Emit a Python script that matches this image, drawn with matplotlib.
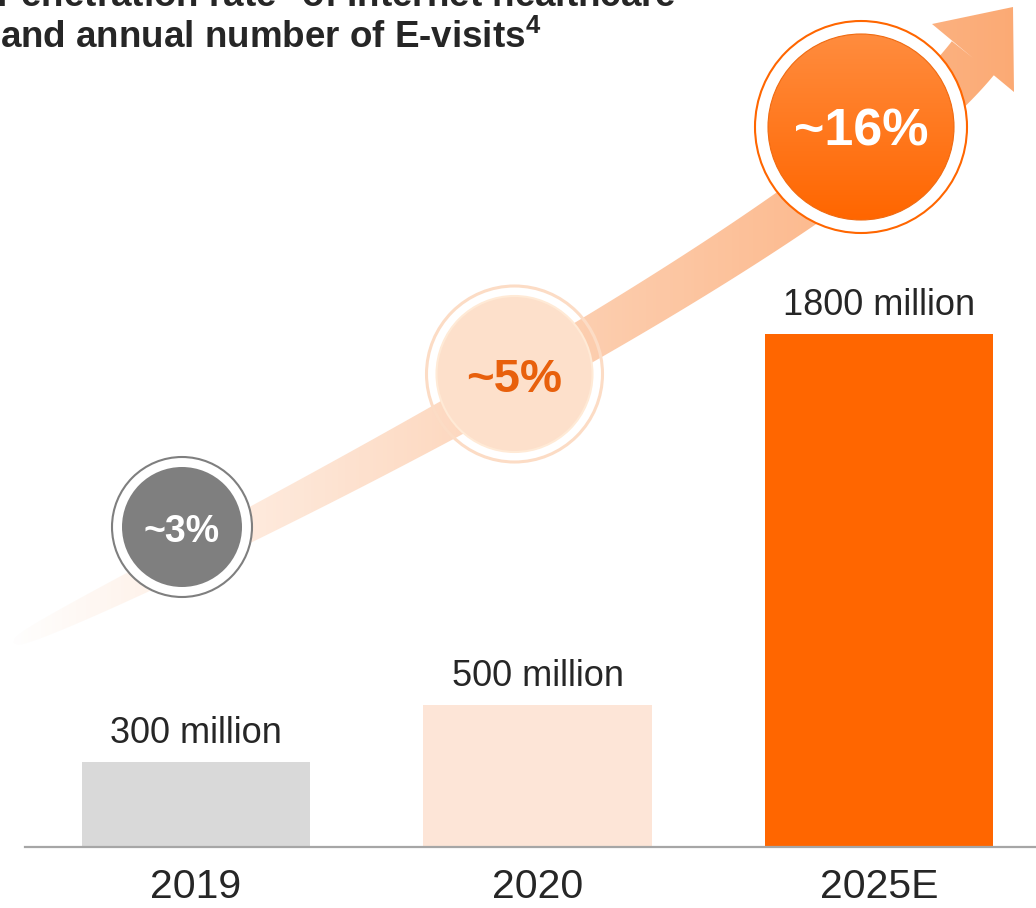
import numpy as np
import matplotlib.pyplot as plt
from matplotlib.patches import Circle, PathPatch
from matplotlib.path import Path

years = ['2019', '2020', '2025E']
visits = [300, 500, 1800]  # annual E-visits, million
visit_labels = ['300 million', '500 million', '1800 million']
penetration = ['~3%', '~5%', '~16%']
bar_colors = ['#D9D9D9', '#FDE5D7', '#FF6600']

plt.rcParams['font.family'] = ['Liberation Sans', 'DejaVu Sans']
plt.rcParams['mathtext.fontset'] = 'custom'
plt.rcParams['mathtext.rm'] = 'Liberation Sans'
plt.rcParams['mathtext.bf'] = 'Liberation Sans:bold'

W, H = 1036, 908
fig = plt.figure(figsize=(W / 100, H / 100), dpi=100)

# bar panel laid out in pixels
x0, base, step, c0 = 25, 847, 341.5, 196
ax = fig.add_axes([x0 / W, (H - base) / H, (W - x0) / W, base / H])
x = np.arange(len(years))
ax.bar(x, visits, width=0.668, color=bar_colors, zorder=2)
left = -(c0 - x0) / step
ax.set_xlim(left, left + (W - x0) / step)
ax.set_ylim(0, base / 0.285)
for s in ['top', 'left', 'right']:
    ax.spines[s].set_visible(False)
ax.spines['bottom'].set_color('#A6A6A6')
ax.spines['bottom'].set_linewidth(1.6)
ax.set_yticks([])
ax.set_xticks(x, years)
ax.tick_params(axis='x', length=0, pad=15, labelsize=29.5, labelcolor='#262626')
ax.patch.set_alpha(0)
for i, (v, lab) in enumerate(zip(visits, visit_labels)):
    ax.annotate(lab, (i, v), xytext=(0, 13.5), textcoords='offset points',
                ha='center', va='baseline', fontsize=26, color='#262626')

# overlay in pixel coordinates for the arrow and the badges
ov = fig.add_axes([0, 0, 1, 1])
ov.set_xlim(0, W)
ov.set_ylim(H, 0)
ov.axis('off')

# curved arrow band
t = np.linspace(0, 1, 300)[:, None]
P = np.array([[13, 643], [363, 475], [849, 214], [973, 58]], float)
B = (1 - t) ** 3 * P[0] + 3 * (1 - t) ** 2 * t * P[1] + 3 * (1 - t) * t ** 2 * P[2] + t ** 3 * P[3]
dB = 3 * (1 - t) ** 2 * (P[1] - P[0]) + 6 * (1 - t) * t * (P[2] - P[1]) + 3 * t ** 2 * (P[3] - P[2])
T = dB / np.linalg.norm(dB, axis=1)[:, None]
N = np.column_stack([T[:, 1], -T[:, 0]])
w = 27 * t ** 0.33
band = np.vstack([B + N * w, (B - N * w)[::-1]])
head = np.array([[932, 24], [1013, 7], [1014, 92]], float)
arrow_path = Path.make_compound_path(Path(band, closed=False), Path(head, closed=False))
gx = np.linspace(0, W, 300)
grad = np.zeros((10, 300, 4))
grad[..., 0] = 251 / 255
grad[..., 1] = 160 / 255
grad[..., 2] = 100 / 255
grad[..., 3] = np.clip(gx / 1040, 0, 1) * 0.92
im = ov.imshow(grad, extent=(0, W, H, 0), origin='upper', aspect='auto', zorder=1)
clip = PathPatch(arrow_path, transform=ov.transData, facecolor='none', edgecolor='none')
ov.add_patch(clip)
im.set_clip_path(clip)

# penetration badges
centers = [ax.transData.transform((i, 0))[0] for i in x]
dx = [-14, -23, -18]
cy = [527, 374, 127]
r_out = [70, 88, 106]
r_in = [60, 78, 93]

# ~3%
cx = centers[0] + dx[0]
ov.add_patch(Circle((cx, cy[0]), r_out[0], facecolor='white', edgecolor='#7F7F7F', lw=1.5, zorder=3))
ov.add_patch(Circle((cx, cy[0]), r_in[0], facecolor='#7F7F7F', edgecolor='none', zorder=4))
ov.text(cx, cy[0] + 15, penetration[0], ha='center', va='baseline', fontsize=27,
        fontweight='bold', color='white', zorder=5)

# ~5%
cx = centers[1] + dx[1]
ov.add_patch(Circle((cx, cy[1]), r_out[1], facecolor='none', edgecolor='#FCDCC5', lw=2.2, zorder=3))
ov.add_patch(Circle((cx, cy[1]), r_in[1], facecolor='#FDE0CB', edgecolor='#FFEAD6', lw=1.5, zorder=4))
ov.text(cx, cy[1] + 18, penetration[1], ha='center', va='baseline', fontsize=34,
        fontweight='bold', color='#E8600C', zorder=5)

# ~16%
cx = centers[2] + dx[2]
ov.add_patch(Circle((cx, cy[2]), r_out[2], facecolor='white', edgecolor='#FF6600', lw=1.5, zorder=3))
inner = Circle((cx, cy[2]), r_in[2], facecolor='none', edgecolor='#F06A10', lw=0.8, zorder=5)
ov.add_patch(inner)
vg = np.zeros((100, 2, 3))
top, bot = np.array([255, 140, 62]) / 255, np.array([255, 102, 0]) / 255
s = np.linspace(0, 1, 100)[:, None]
vg[:, :, :] = (top * (1 - s) + bot * s)[:, None, :]
im2 = ov.imshow(vg, extent=(cx - r_in[2], cx + r_in[2], cy[2] + r_in[2], cy[2] - r_in[2]),
                origin='upper', aspect='auto', zorder=4)
im2.set_clip_path(inner)
ov.text(cx, cy[2] + 18, penetration[2], ha='center', va='baseline', fontsize=37.5,
        fontweight='bold', color='white', zorder=6)
ov.set_xlim(0, W)
ov.set_ylim(H, 0)

# title (top line runs off the canvas)
fig.text(-4 / W, 1 - 7 / H, r'Penetration rate$^{\mathbf{3}}$ of Internet healthcare',
         fontsize=26.5, fontweight='bold', color='#262626', va='baseline')
fig.text(0, 1 - 48 / H, r'and annual number of E-visits$^{\mathbf{4}}$',
         fontsize=26.5, fontweight='bold', color='#262626', va='baseline')

fig.savefig('out.png', dpi=100)
